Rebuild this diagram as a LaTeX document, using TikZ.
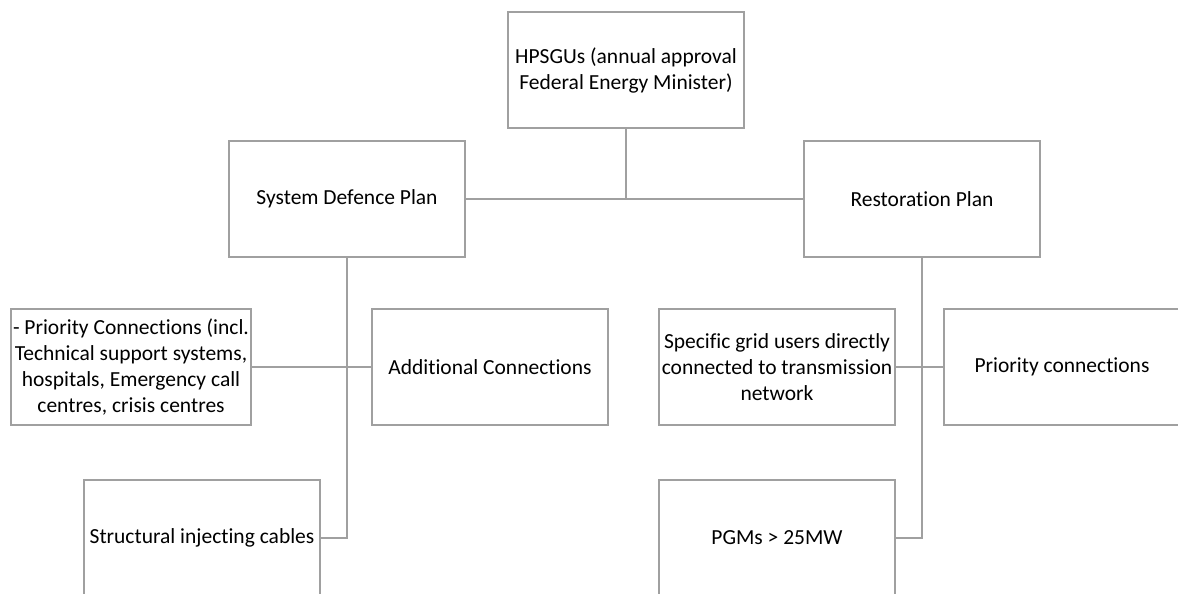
\documentclass[tikz,border=0pt]{standalone}
\usepackage{fontspec}
\setmainfont[Ligatures=NoCommon]{Carlito}
\usetikzlibrary{positioning}
\definecolor{boxgray}{RGB}{160,160,160}

\begin{document}
\begin{tikzpicture}[x=1pt, y=-1pt,
  box/.style={draw=boxgray, line width=2.6pt, fill=white, minimum width=236pt, minimum height=116pt,
    align=center, inner sep=2pt, font=\fontsize{21.5}{26}\selectfont},
  link/.style={draw=boxgray, line width=2.6pt}]
  \clip (0,0) rectangle (1178,594);
  \node[box] (hpsgu) at (626,70) {HPSGUs (annual approval\\Federal Energy Minister)};
  \node[box] (sdp) at (347,199) {System Defence Plan};
  \node[box] (rp) at (922,199) {Restoration Plan};
  \node[box] (prio) at (131,367) {- Priority Connections (incl.\\Technical support systems,\\hospitals, Emergency call\\centres, crisis centres};
  \node[box] (addc) at (490,367) {Additional Connections};
  \node[box] (sic) at (202,538) {Structural injecting cables};
  \node[box] (sgu) at (777,367) {Specific grid users directly\\connected to transmission\\network};
  \node[box] (prioc) at (1062,367) {Priority connections};
  \node[box] (pgm) at (777,538) {PGMs > 25MW};
  \coordinate (top) at (hpsgu.south |- sdp.east);
  \draw[link] (hpsgu) -- (top);
  \draw[link] (sdp) -- (rp);
  \draw[link] (sdp) -- (sdp.south |- sic.east) -- (sic);
  \draw[link] (prio) -- (addc);
  \draw[link] (rp) -- (rp.south |- pgm.east) -- (pgm);
  \draw[link] (sgu) -- (prioc);
\end{tikzpicture}
\end{document}
